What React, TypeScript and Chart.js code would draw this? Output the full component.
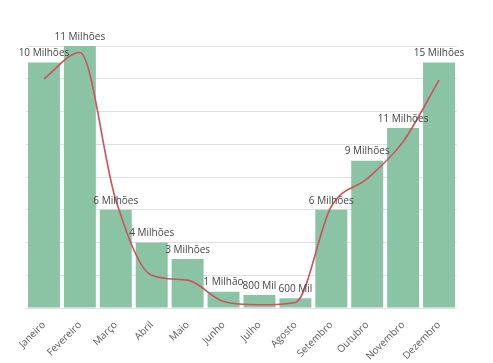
import React, { useEffect, useRef } from "react";
import { Chart, registerables } from "chart.js";

Chart.register(...registerables);

const months = ["Janeiro", "Fevereiro", "Março", "Abril", "Maio", "Junho", "Julho", "Agosto", "Setembro", "Outubro", "Novembro", "Dezembro"];
const barValues = [7.5, 8, 3, 2, 1.5, 0.5, 0.4, 0.3, 3, 4.5, 5.5, 7.5];
const lineValues = [7.0, 7.8, 3.3, 1.0, 0.85, 0.2, 0.1, 0.17, 3.1, 3.95, 5.08, 6.96];
const barLabels = ["10 Milhões", "11 Milhões", "6 Milhões", "4 Milhões", "3 Milhões", "1 Milhão", "800 Mil", "600 Mil", "6 Milhões", "9 Milhões", "11 Milhões", "15 Milhões"];

const FONT = "'Open Sans', 'Noto Sans', sans-serif";

const labelPlugin = {
  id: "barTopLabels",
  afterDatasetsDraw(chart: any) {
    const meta = chart.getDatasetMeta(0);
    const ctx = chart.ctx;
    ctx.save();
    ctx.font = `10px ${FONT}`;
    ctx.fillStyle = "#444444";
    ctx.textAlign = "center";
    ctx.textBaseline = "bottom";
    meta.data.forEach((el: any, i: number) => {
      ctx.fillText(barLabels[i], el.x, el.y - 4);
    });
    ctx.restore();
  },
};

export default function App() {
  const ref = useRef<HTMLCanvasElement | null>(null);
  useEffect(() => {
    if (!ref.current) return;
    const chart = new Chart(ref.current, {
      type: "bar",
      data: {
        labels: months,
        datasets: [
          {
            type: "bar",
            data: barValues,
            backgroundColor: "#8bc3a5",
            categoryPercentage: 1,
            barPercentage: 0.89,
            order: 2,
          },
          {
            type: "line",
            data: lineValues,
            borderColor: "#d0505e",
            borderWidth: 1.6,
            pointRadius: 0,
            tension: 0.4,
            cubicInterpolationMode: "monotone",
            fill: false,
            order: 1,
          } as any,
        ],
      },
      options: {
        animation: false,
        responsive: true,
        maintainAspectRatio: false,
        layout: { padding: { left: 26, right: 36, top: 46, bottom: 0 } },
        plugins: { legend: { display: false }, tooltip: { enabled: false } },
        scales: {
          x: {
            grid: { display: false },
            border: { display: false },
            ticks: {
              color: "#5a5a5a",
              font: { family: FONT, size: 10 },
              minRotation: 45,
              maxRotation: 45,
              padding: 3,
            },
            afterFit: (s: any) => {
              s.height = 55;
            },
          },
          y: {
            min: 0,
            max: 8,
            ticks: { display: false, stepSize: 1 },
            border: { display: false },
            grid: { color: "#e0e0e0", drawTicks: false },
            afterFit: (s: any) => {
              s.width = 0;
            },
          },
        },
      },
      plugins: [labelPlugin],
    });
    return () => chart.destroy();
  }, []);
  return (
    <div style={{ position: "fixed", left: 0, top: 0, width: 493, height: 363, background: "#fff" }}>
      <canvas ref={ref} />
    </div>
  );
}
